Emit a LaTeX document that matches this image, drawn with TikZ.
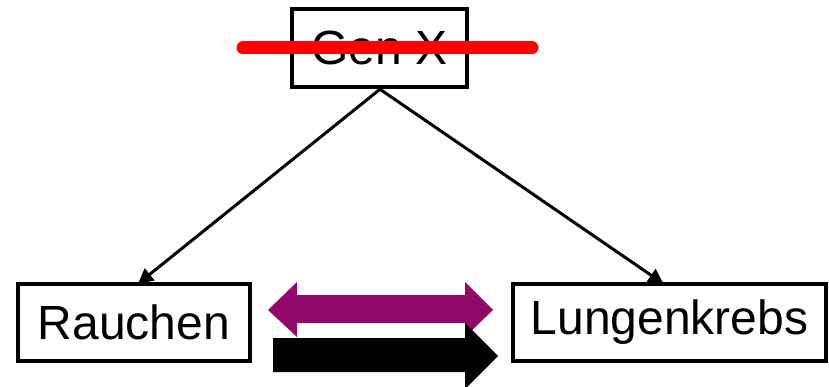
\documentclass[tikz,border=0pt]{standalone}
\usepackage{fontspec}
\setmainfont{Liberation Sans}
\usetikzlibrary{arrows.meta}
\definecolor{plum}{RGB}{145,8,105}
\begin{document}
\begin{tikzpicture}[x=1pt,y=-1pt,
  varbox/.style={draw=black,line width=4.5pt,inner sep=0pt,fill=white,
    font=\fontsize{48}{58}\selectfont},
  causal/.style={line width=3pt,-{Triangle[length=15pt,width=15pt]}}]
\useasboundingbox (0,0) rectangle (829,387);
\clip (0,0) rectangle (829,387);
\node[varbox,minimum width=175pt,minimum height=78pt] (gen) at (379.5,48) {Gen X};
\node[varbox,minimum width=232pt,minimum height=77pt] (rauch) at (134,322.5) {Rauchen};
\node[varbox,minimum width=313pt,minimum height=77pt] (lung) at (669.5,322.5) {Lungenkrebs};
\coordinate (gs) at ([xshift=0.5pt]gen.south);
\draw[causal] (gs) -- ([xshift=4pt,yshift=-2pt]rauch.north);
\draw[causal] (gs) -- ([xshift=-6pt,yshift=-2pt]lung.north);
\draw[red,line width=13pt,line cap=round] (243,48) -- (532,48);
\fill[plum] (268,310) -- (297,282) -- (297,295) -- (465,295) -- (465,282) -- (493,310)
  -- (465,337) -- (465,323) -- (297,323) -- (297,337) -- cycle;
\fill[black] (273,338) -- (465,338) -- (465,323) -- (498,356) -- (465,389)
  -- (465,372) -- (273,372) -- cycle;
\end{tikzpicture}
\end{document}
